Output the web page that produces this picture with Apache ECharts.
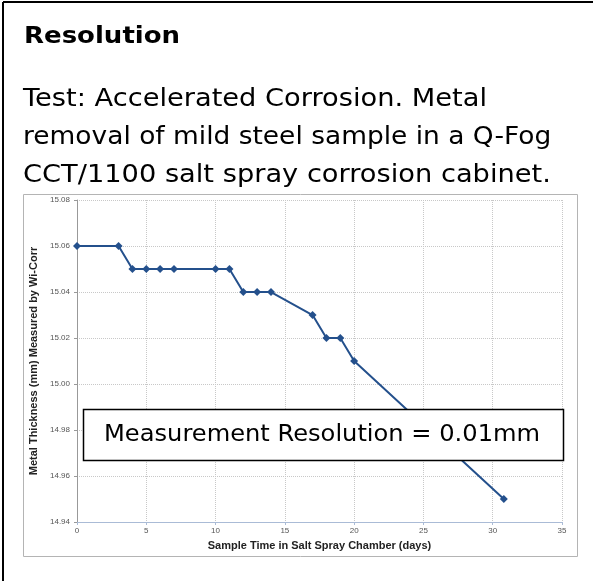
<!DOCTYPE html>
<html>
<head>
<meta charset="utf-8">
<script src="https://cdn.jsdelivr.net/npm/echarts@6/dist/echarts.min.js"></script>
<style>
  html, body { margin: 0; padding: 0; background: #fff; }
  #chart { width: 593px; height: 581px; }
</style>
</head>
<body>
<div id="chart"></div>
<script>
// sample time (days) and thickness (mm)
const days = [0, 3, 4, 5, 6, 7, 10, 11, 12, 13, 14, 17, 18, 19, 20, 30.8];
const thickness = [15.06, 15.06, 15.05, 15.05, 15.05, 15.05, 15.05, 15.05,
    15.04, 15.04, 15.04, 15.03, 15.02, 15.02, 15.01, 14.95];

const heading = "Resolution";
const descLines = [
    "Test: Accelerated Corrosion. Metal",
    "removal of mild steel sample in a Q-Fog",
    "CCT/1100 salt spray corrosion cabinet.",
];
const noteText = "Measurement Resolution = 0.01mm";

const chart = echarts.init(document.getElementById("chart"));

const gridLine = {
    show: true,
    lineStyle: { color: "#c8c8c8", type: "dotted", width: 1 },
};

// Verdana is not installed; DejaVu Sans is narrower, so text is stretched a bit
const descStretch = [1.09, 1.058, 1.09];
const descText = descLines.map((line, i) => ({
    type: "text",
    x: 23,
    y: 99 + i * 38,
    scaleX: descStretch[i],
    style: {
        text: line,
        font: "25px 'DejaVu Sans'",
        fill: "#000",
        verticalAlign: "middle",
    },
}));

chart.setOption({
    animation: false,
    grid: { left: 77, right: 31, top: 200, bottom: 59 },
    xAxis: {
        type: "value",
        min: 0,
        max: 35,
        interval: 5,
        name: "Sample Time in Salt Spray Chamber (days)",
        nameLocation: "middle",
        nameGap: 18,
        nameTextStyle: {
            fontFamily: "Liberation Sans",
            fontWeight: "bold",
            fontSize: 11,
            color: "#222",
        },
        axisLine: { lineStyle: { color: "#aabbd6", width: 1 } },
        axisTick: { show: true, length: 3, lineStyle: { color: "#aabbd6" } },
        axisLabel: {
            fontFamily: "Liberation Sans",
            fontSize: 8,
            color: "#555",
            margin: 5,
        },
        splitLine: gridLine,
    },
    yAxis: {
        type: "value",
        min: 14.94,
        max: 15.08,
        interval: 0.02,
        name: "Metal Thickness (mm) Measured by Wi-Corr",
        nameLocation: "middle",
        nameGap: 37,
        nameTextStyle: {
            fontFamily: "Liberation Sans",
            fontWeight: "bold",
            fontSize: 11,
            color: "#222",
        },
        axisLine: { show: true, lineStyle: { color: "#999", width: 1 } },
        axisTick: { show: true, length: 3, lineStyle: { color: "#999" } },
        axisLabel: {
            fontFamily: "Liberation Sans",
            fontSize: 8,
            color: "#555",
            margin: 7,
            formatter: (v) => v.toFixed(2),
        },
        splitLine: gridLine,
    },
    series: [
        {
            type: "line",
            data: days.map((d, i) => [d, thickness[i]]),
            symbol: "diamond",
            symbolSize: 8,
            showSymbol: true,
            lineStyle: { color: "#24508c", width: 2 },
            itemStyle: { color: "#24508c" },
            z: 3,
        },
    ],
    graphic: [
        // page border (top and left edges)
        { type: "line", shape: { x1: 3, y1: 2, x2: 593, y2: 2 }, style: { stroke: "#000", lineWidth: 2 }, z: 10 },
        { type: "line", shape: { x1: 3, y1: 2, x2: 3, y2: 581 }, style: { stroke: "#000", lineWidth: 2 }, z: 10 },
        // chart frame
        {
            type: "rect",
            shape: { x: 23.5, y: 194.5, width: 554, height: 362 },
            style: { fill: "none", stroke: "#b4b4b4", lineWidth: 1 },
            z: -1,
        },
        {
            type: "text",
            x: 24,
            y: 37,
            scaleX: 1.13,
            style: {
                text: heading,
                font: "bold 23px 'DejaVu Sans'",
                fill: "#000",
                verticalAlign: "middle",
            },
        },
        ...descText,
        // note box sits above the line
        {
            type: "rect",
            shape: { x: 83.5, y: 409.5, width: 480, height: 51 },
            style: { fill: "#fff", stroke: "#000", lineWidth: 1.5 },
            z: 100,
        },
        {
            type: "text",
            x: 104,
            y: 435,
            scaleX: 1.05,
            z: 101,
            style: {
                text: noteText,
                font: "23px 'DejaVu Sans'",
                fill: "#000",
                verticalAlign: "middle",
            },
        },
    ],
});
</script>
</body>
</html>
